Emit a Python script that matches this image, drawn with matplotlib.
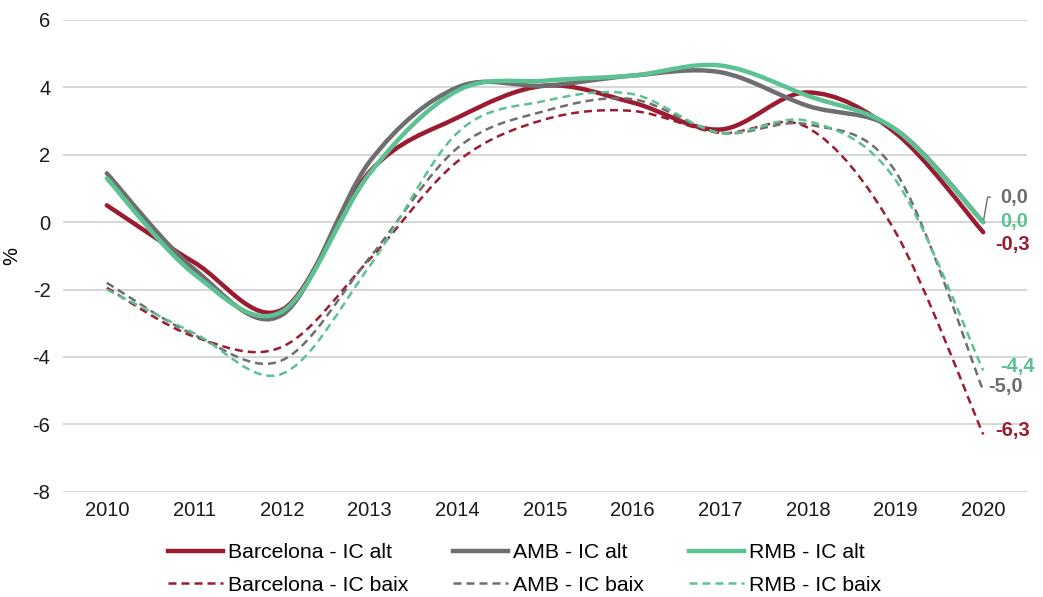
import numpy as np
import matplotlib
matplotlib.use("Agg")
import matplotlib.pyplot as plt
from matplotlib.path import Path
from matplotlib.patches import PathPatch
from matplotlib.lines import Line2D

# Data (annual values, %)
YEARS = [2010, 2011, 2012, 2013, 2014, 2015, 2016, 2017, 2018, 2019, 2020]
BCN_ALT = [0.5, -1.2, -2.6, 1.5, 3.1, 4.05, 3.55, 2.75, 3.85, 2.65, -0.3]
AMB_ALT = [1.45, -1.4, -2.75, 1.8, 4.0, 4.05, 4.35, 4.45, 3.45, 2.75, 0.0]
RMB_ALT = [1.3, -1.55, -2.65, 1.45, 3.9, 4.2, 4.35, 4.65, 3.75, 2.75, 0.0]
BCN_BAIX = [-1.95, -3.4, -3.7, -1.1, 1.8, 3.05, 3.3, 2.65, 2.8, -0.3, -6.3]
AMB_BAIX = [-1.8, -3.35, -4.1, -1.05, 2.2, 3.3, 3.65, 2.65, 2.9, 1.5, -5.0]
RMB_BAIX = [-2.0, -3.3, -4.5, -1.3, 2.65, 3.6, 3.8, 2.65, 3.0, 1.25, -4.4]

LABELS = ["Barcelona - IC alt", "AMB - IC alt", "RMB - IC alt",
          "Barcelona - IC baix", "AMB - IC baix", "RMB - IC baix"]

RED = "#9b1c31"
GRAY = "#6e6e70"
GREEN = "#5dc293"

plt.rcParams["font.family"] = ["Liberation Sans", "DejaVu Sans"]


def smooth_path(xs, ys):
    # Excel-style smoothed line: cubic Bezier segments through every point
    pts = np.column_stack([xs, ys]).astype(float)
    n = len(pts)
    verts = [tuple(pts[0])]
    codes = [Path.MOVETO]
    for i in range(n - 1):
        p_prev = pts[i - 1] if i > 0 else pts[i]
        p_next = pts[i + 2] if i + 2 < n else pts[i + 1]
        c1 = pts[i] + (pts[i + 1] - p_prev) / 6.0
        c2 = pts[i + 1] - (p_next - pts[i]) / 6.0
        verts += [tuple(c1), tuple(c2), tuple(pts[i + 1])]
        codes += [Path.CURVE4] * 3
    return Path(verts, codes)


fig = plt.figure(figsize=(10.43, 5.97), dpi=100)
ax = fig.add_axes([0.0604, 0.1764, 0.9243, 0.7901])

dash = (0, (3.2, 2.0))
series = [
    (BCN_ALT, RED, "-", 3.2),
    (AMB_ALT, GRAY, "-", 3.2),
    (RMB_ALT, GREEN, "-", 3.2),
    (BCN_BAIX, RED, dash, 1.8),
    (AMB_BAIX, GRAY, dash, 1.8),
    (RMB_BAIX, GREEN, dash, 1.8),
]

handles = []
for (vals, col, ls, lw), lab in zip(series, LABELS):
    patch = PathPatch(smooth_path(YEARS, vals), facecolor="none", edgecolor=col,
                      lw=lw, linestyle=ls, capstyle="round" if ls == "-" else "butt",
                      joinstyle="round", zorder=3)
    ax.add_patch(patch)
    handles.append(Line2D([], [], color=col, lw=lw, linestyle=ls, label=lab))

ax.set_xlim(2009.5, 2020.5)
ax.set_ylim(-8, 6)
ax.set_xticks(YEARS)
ax.set_xticklabels([str(y) for y in YEARS])
ax.set_yticks(np.arange(-8, 7, 2))
ax.set_yticklabels([str(v) for v in range(-8, 7, 2)])
ax.tick_params(axis="both", length=0, labelsize=14.5, colors="#1a1a1a")
ax.tick_params(axis="y", pad=9)
ax.tick_params(axis="x", pad=7)
ax.grid(axis="y", color="#d0d0d0", lw=1.2)
ax.set_axisbelow(True)
for s in ax.spines.values():
    s.set_visible(False)
ax.set_ylabel("%", fontsize=14.5, labelpad=8)

# End-point value labels
px = 0.72  # points per pixel
end_labels = [
    (AMB_ALT, GRAY, 17, 25),
    (RMB_ALT, GREEN, 17, 1),
    (BCN_ALT, RED, 12, -12),
    (RMB_BAIX, GREEN, 17, 4),
    (AMB_BAIX, GRAY, 5, 4),
    (BCN_BAIX, RED, 12, 4),
]
for vals, col, dx, dy in end_labels:
    txt = f"{vals[-1]:.1f}".replace(".", ",")
    kw = {}
    if vals is AMB_ALT:
        kw["arrowprops"] = dict(arrowstyle="-", color=GRAY, lw=1.0, shrinkA=5, shrinkB=2,
                                relpos=(0, 0.5),
                                connectionstyle="angle,angleA=0,angleB=80,rad=0")
    ax.annotate(txt, xy=(YEARS[-1], vals[-1]), xytext=(dx * px, dy * px),
                textcoords="offset points", ha="left", va="center",
                fontsize=14.5, fontweight="bold", color=col,
                annotation_clip=False, **kw)

order = [0, 3, 1, 4, 2, 5]
fig.legend([handles[i] for i in order], [LABELS[i] for i in order],
           loc="center", bbox_to_anchor=(0.503, 0.047), ncol=3, frameon=False,
           prop=dict(family="Liberation Sans", size=15.3), handlelength=2.6,
           handletextpad=0.24, columnspacing=2.1, labelspacing=0.63, borderpad=0)

fig.savefig("out.png", dpi=100)
